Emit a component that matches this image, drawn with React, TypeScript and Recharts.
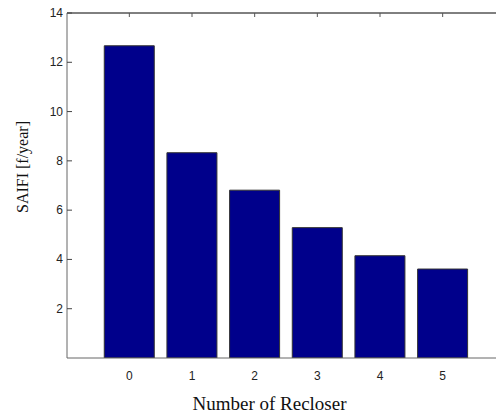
import React from "react";
import { BarChart, Bar, XAxis, YAxis } from "recharts";

// SAIFI versus number of reclosers, MATLAB-style bar plot.

const recloserCounts = ["0", "1", "2", "3", "4", "5"];
const saifiValues = [12.67, 8.33, 6.81, 5.29, 4.15, 3.61];
const yTicks = [2, 4, 6, 8, 10, 12, 14];

const data = recloserCounts.map((n, i) => ({ n, saifi: saifiValues[i] }));

const sans = "'Liberation Sans', Arial, sans-serif";
const serif = "'Liberation Serif', 'Times New Roman', serif";
const BAR = "#00008b";

function YTick({ x, y, payload }: any) {
  // tickSize 0 and tickMargin 4 -> axis line sits at x + 4
  return (
    <g>
      <line x1={x + 4} x2={x + 9} y1={y} y2={y} stroke="#444" strokeWidth={1} />
      <text x={x} y={y + 4} textAnchor="end" fontFamily={sans} fontSize={12} fill="#222">{payload.value}</text>
    </g>
  );
}

function XTick({ x, y, payload }: any) {
  return (
    <text x={x} y={y + 22} textAnchor="middle" fontFamily={sans} fontSize={12} fill="#222">{payload.value}</text>
  );
}

function TopTick({ x, y }: any) {
  return <line x1={x} x2={x} y1={y} y2={y + 4} stroke="#555" strokeWidth={1} />;
}

export default function App() {
  return (
    <div style={{ position: "absolute", left: 0, top: 0, width: 496, height: 416, overflow: "hidden", background: "#fff" }}>
      <BarChart width={520} height={416} data={data} margin={{ top: 12, right: 15, left: 8, bottom: 0 }} barCategoryGap="10%">
        <XAxis dataKey="n" xAxisId="bottom" height={58} padding={{ left: 31, right: 31 }}
          axisLine={{ stroke: "#666" }} tickLine={false} tickSize={0} tickMargin={0} tick={<XTick />} interval={0} />
        <XAxis dataKey="n" xAxisId="top" orientation="top" height={1} padding={{ left: 31, right: 31 }}
          axisLine={{ stroke: "#000" }} tickLine={false} tickSize={0} tickMargin={0} tick={<TopTick />} interval={0} />
        <YAxis type="number" domain={[0, 14]} ticks={yTicks} width={59} allowDataOverflow
          axisLine={{ stroke: "#666" }} tickLine={false} tickSize={0} tickMargin={4} tick={<YTick />} />
        <Bar dataKey="saifi" xAxisId="bottom" fill={BAR} stroke="#333" strokeWidth={1} isAnimationActive={false} />
      </BarChart>
      <div style={{ position: "absolute", left: 0, width: 539, top: 394, lineHeight: 1, textAlign: "center", fontFamily: serif, fontSize: 19, color: "#111", whiteSpace: "nowrap" }}>
        Number of Recloser
      </div>
      <div style={{ position: "absolute", left: 23, top: 167, lineHeight: 1, transform: "translate(-50%, -50%) rotate(-90deg)", fontFamily: serif, fontSize: 16, color: "#111", whiteSpace: "nowrap" }}>
        SAIFI [f/year]
      </div>
    </div>
  );
}
